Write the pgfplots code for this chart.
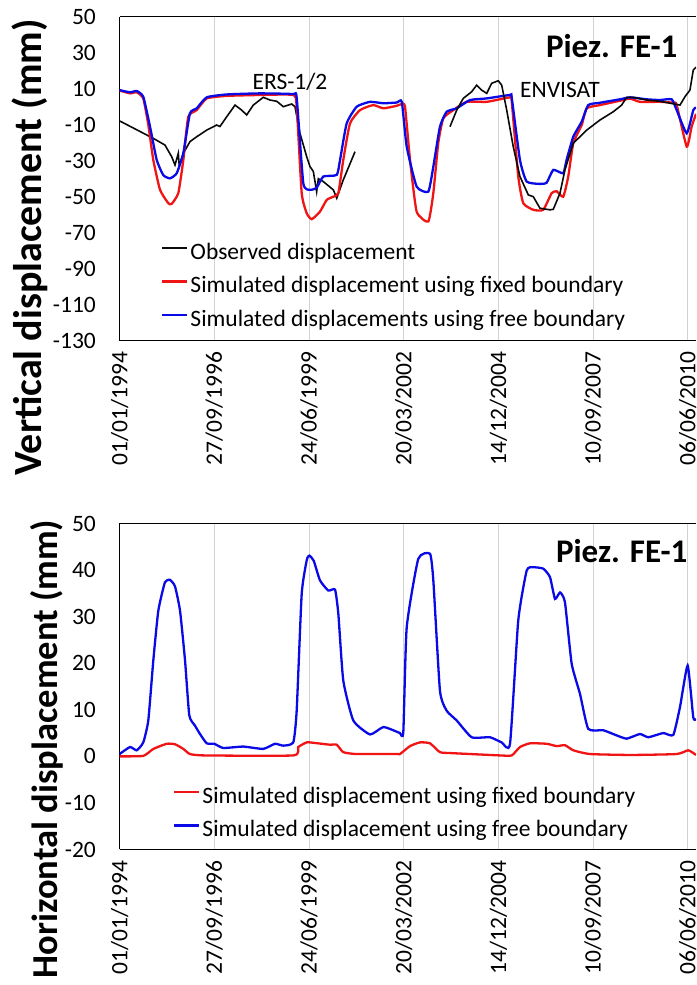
\documentclass[border=0pt]{standalone}
\usepackage{fontspec}
\setmainfont{Carlito}
\usepackage{pgfplots}
\pgfplotsset{compat=1.18}
\definecolor{obsblack}{RGB}{10,10,10}
\definecolor{fixred}{RGB}{240,20,20}
\definecolor{freeblue}{RGB}{10,10,230}
\pgfplotsset{
 myax/.style={
  scale only axis, width=576.4pt, xmin=0, xmax=6087,
  axis x line*=box, axis y line*=left,
  axis line style={black, line width=1pt},
  xtick={0,1000,2000,3000,4000,5000,6000},
  xticklabels={01/01/1994,27/09/1996,24/06/1999,20/03/2002,14/12/2004,10/09/2007,06/06/2010},
  xmajorgrids, major grid style={gray!35, line width=0.6pt},
  major tick length=0pt,
  tick label style={font=\fontsize{23.5}{27}\selectfont},
  xticklabel style={yshift=-11pt, rotate=90, anchor=east, inner sep=0pt},
  yticklabel style={anchor=east, inner sep=0pt, xshift=-23.5pt},
  legend style={draw=none, fill=none, inner sep=0pt, font=\fontsize{23.5}{28}\selectfont, row sep=10.7pt, column sep=2pt, nodes={inner sep=0pt, text height=17pt, text depth=6pt}, anchor=north west},
  legend cell align=left,
  legend image code/.code={\draw[#1] (0pt,6pt) -- (25pt,6pt);},
 }
}
\begin{document}
\begin{tikzpicture}
\begin{axis}[myax, at={(119.6pt,644.3pt)}, anchor=south west, height=324pt,
  ymin=-130, ymax=50, ytick={50,30,10,-10,-30,-50,-70,-90,-110,-130},
  yticklabels={50,30,10,-10,-30,-50,-70,-90,-110,-130},
  legend style={at={(0.0718,0.3046)}}]
\addplot[obsblack, line width=1.6pt] coordinates {
(4,-8) (356,-17.6) (479,-21.3) (550,-27.8) (585,-32.4) (620,-25.9) (630,-33) (673,-25.9) (743,-19.4) (814,-16.7) (920,-13) (1025,-10.2) (1060,-11) (1131,-5.6) (1219,0.9) (1289,-1.9) (1342,-4.6) (1412,0.9) (1517,5.2) (1588,3.7) (1660,3) (1729,0) (1817,1.5) (1852,0) (1905,-14.8) (1976,-27.8) (2011,-33.3) (2046,-36) (2081,-47.2) (2099,-40) (2151,-41.6) (2257,-46.2) (2293,-50.8) (2362,-40.7) (2486,-25)};
\addlegendentry{Observed displacement}
\addplot[fixred, line width=2.3pt, smooth, tension=0.3] coordinates {
(0,9) (110,7.4) (181,8) (250,4.6) (303,-10) (356,-29.6) (427,-46.2) (514,-53.6) (550,-54) (620,-48) (673,-29.6) (725,-5.6) (814,-1.9) (920,4.6) (1131,6) (1483,6.5) (1834,6.5) (1870,0) (1923,-48) (1976,-59.2) (2029,-62.5) (2116,-58.3) (2187,-51.8) (2257,-50) (2310,-48) (2362,-29.6) (2433,-9.3) (2539,-1.9) (2679,0.9) (2785,-0.9) (2926,0.5) (2980,1.5) (3014,0) (3067,-29.6) (3137,-58.3) (3260,-63.8) (3313,-48) (3365,-20.3) (3418,-6.5) (3524,-1.9) (3665,2.7) (3877,2.7) (4123,5.2) (4141,3) (4210,-38.8) (4263,-53.6) (4369,-57.3) (4474,-57.3) (4563,-48) (4616,-47) (4685,-50) (4738,-38.8) (4791,-20.3) (4880,-10.2) (4933,-0.9) (5073,0.9) (5284,3.3) (5390,4.5) (5495,2.7) (5707,2.7) (5847,2.2) (5883,1) (5989,-22.2) (6041,-11.1) (6087,-4)};
\addlegendentry{Simulated displacement using fixed boundary}
\addplot[freeblue, line width=2.3pt, smooth, tension=0.3] coordinates {
(0,9.2) (110,8) (181,8.7) (250,5.5) (321,-11) (392,-29.6) (461,-38) (532,-39.8) (603,-37) (673,-25.7) (743,-3.7) (814,-0.9) (920,5.2) (1131,6.8) (1483,7.4) (1834,7) (1870,5) (1940,-42.5) (2011,-46.2) (2081,-45) (2151,-38.8) (2293,-37.9) (2328,-29.6) (2398,-9.3) (2504,0) (2645,2.7) (2785,1.9) (2926,2.3) (2980,2.7) (3032,-22.2) (3137,-44.4) (3260,-47.2) (3313,-33.3) (3383,-11.1) (3454,-2.8) (3560,-0.9) (3700,3.7) (3877,4.6) (4123,6.5) (4141,5) (4228,-29.6) (4299,-41.6) (4439,-42.9) (4510,-42.2) (4580,-35.1) (4685,-37) (4720,-29.6) (4791,-16.7) (4880,-8.3) (4949,0.9) (5073,2.2) (5284,4.1) (5390,5.2) (5566,4.1) (5707,3.7) (5830,4.1) (5883,-1.9) (5989,-14.8) (6058,-1.9) (6087,-0.5)};
\addlegendentry{Simulated displacements using free boundary}
\addplot[obsblack, line width=1.6pt, forget plot] coordinates {
(3489,-11.1) (3560,-1.9) (3629,4.6) (3718,8.3) (3771,12) (3824,9.2) (3877,7.4) (3929,13) (3999,14.4) (4035,12) (4088,-1.9) (4157,-22.2) (4228,-38.8) (4316,-49) (4369,-50) (4439,-56.4) (4545,-57.3) (4580,-57) (4651,-48) (4703,-35.1) (4791,-20.3) (4933,-13) (5073,-7.4) (5213,-2.8) (5302,0.9) (5355,5.2) (5425,5.2) (5566,3.7) (5707,3) (5918,0.9) (5971,5.6) (6023,9.2) (6058,20.3) (6087,22)};
\end{axis}
\begin{axis}[myax, at={(119.6pt,135.5pt)}, anchor=south west, height=326pt,
  ymin=-20, ymax=50, ytick={50,40,30,20,10,0,-10,-20},
  yticklabels={50,40,30,20,10,0,-10,-20},
  legend style={at={(0.0926,0.1948)}}]
\addplot[fixred, line width=2.3pt, smooth, tension=0.3] coordinates {
(0,0) (250,0.1) (356,1.6) (497,2.7) (585,2.6) (673,1.6) (743,0.5) (900,0.2) (1834,0.2) (1887,2.0) (1976,3.0) (2050,2.9) (2222,2.5) (2293,2.5) (2362,0.9) (2500,0.5) (2926,0.5) (2961,0.5) (3067,2.2) (3172,3.0) (3278,2.8) (3383,0.9) (3500,0.7) (4017,0.2) (4141,0.2) (4228,2.0) (4334,2.8) (4510,2.7) (4616,2.2) (4703,2.4) (4791,1.3) (4967,0.5) (5400,0.3) (5883,0.5) (6005,1.3) (6087,0.3)};
\addlegendentry{Simulated displacement using fixed boundary}
\addplot[freeblue, line width=2.3pt, smooth, tension=0.3] coordinates {
(0,0.5) (110,2.0) (181,1.3) (250,3.0) (303,7.7) (356,20.6) (409,31.3) (479,37.4) (532,37.9) (585,36.5) (638,31.3) (691,20.6) (736,8.8) (796,6.6) (849,4.8) (920,2.8) (1000,2.7) (1095,1.8) (1306,2.1) (1517,1.6) (1641,2.7) (1729,2.3) (1834,3.0) (1870,9.8) (1923,34.9) (1976,42.1) (2003,43.1) (2050,42) (2116,37.8) (2204,35.6) (2275,35.8) (2310,30.6) (2362,16.3) (2468,7.7) (2645,4.7) (2785,6.3) (2926,5.3) (2961,5.0) (2996,5.2) (3032,27.7) (3154,42.4) (3278,43.5) (3313,37.8) (3383,14.1) (3454,9.8) (3560,7.7) (3718,4.1) (3911,4.1) (4035,3.0) (4123,2.7) (4210,29.2) (4299,39.9) (4369,40.6) (4474,40.3) (4545,38.5) (4598,33.8) (4651,35.2) (4703,33.1) (4774,19.9) (4862,13.4) (4949,5.9) (5108,5.6) (5249,4.5) (5355,3.8) (5495,4.8) (5583,4.1) (5741,5.0) (5847,4.6) (5918,10.6) (5999,19.5) (6058,8.4) (6087,8)};
\addlegendentry{Simulated displacement using free boundary}
\end{axis}
\node[font=\fontsize{23.5}{28}\selectfont] at (290pt,903pt) {ERS-1/2};
\node[font=\fontsize{23.5}{28}\selectfont] at (560pt,895.5pt) {ENVISAT};
\node[font=\bfseries\fontsize{33}{38}\selectfont] at (611.7pt,939pt) {Piez. FE-1};
\node[font=\bfseries\fontsize{33}{38}\selectfont] at (621.7pt,433.5pt) {Piez. FE-1};
\node[rotate=90, anchor=base, font=\bfseries\fontsize{40}{46}\selectfont] at (41pt,737.5pt) {Vertical displacement (mm)};
\node[rotate=90, anchor=base, font=\bfseries\fontsize{36.5}{42}\selectfont] at (57pt,236pt) {Horizontal displacement (mm)};
\pgfresetboundingbox
\useasboundingbox (0pt,0pt) rectangle (696pt,985pt);
\end{tikzpicture}
\end{document}
